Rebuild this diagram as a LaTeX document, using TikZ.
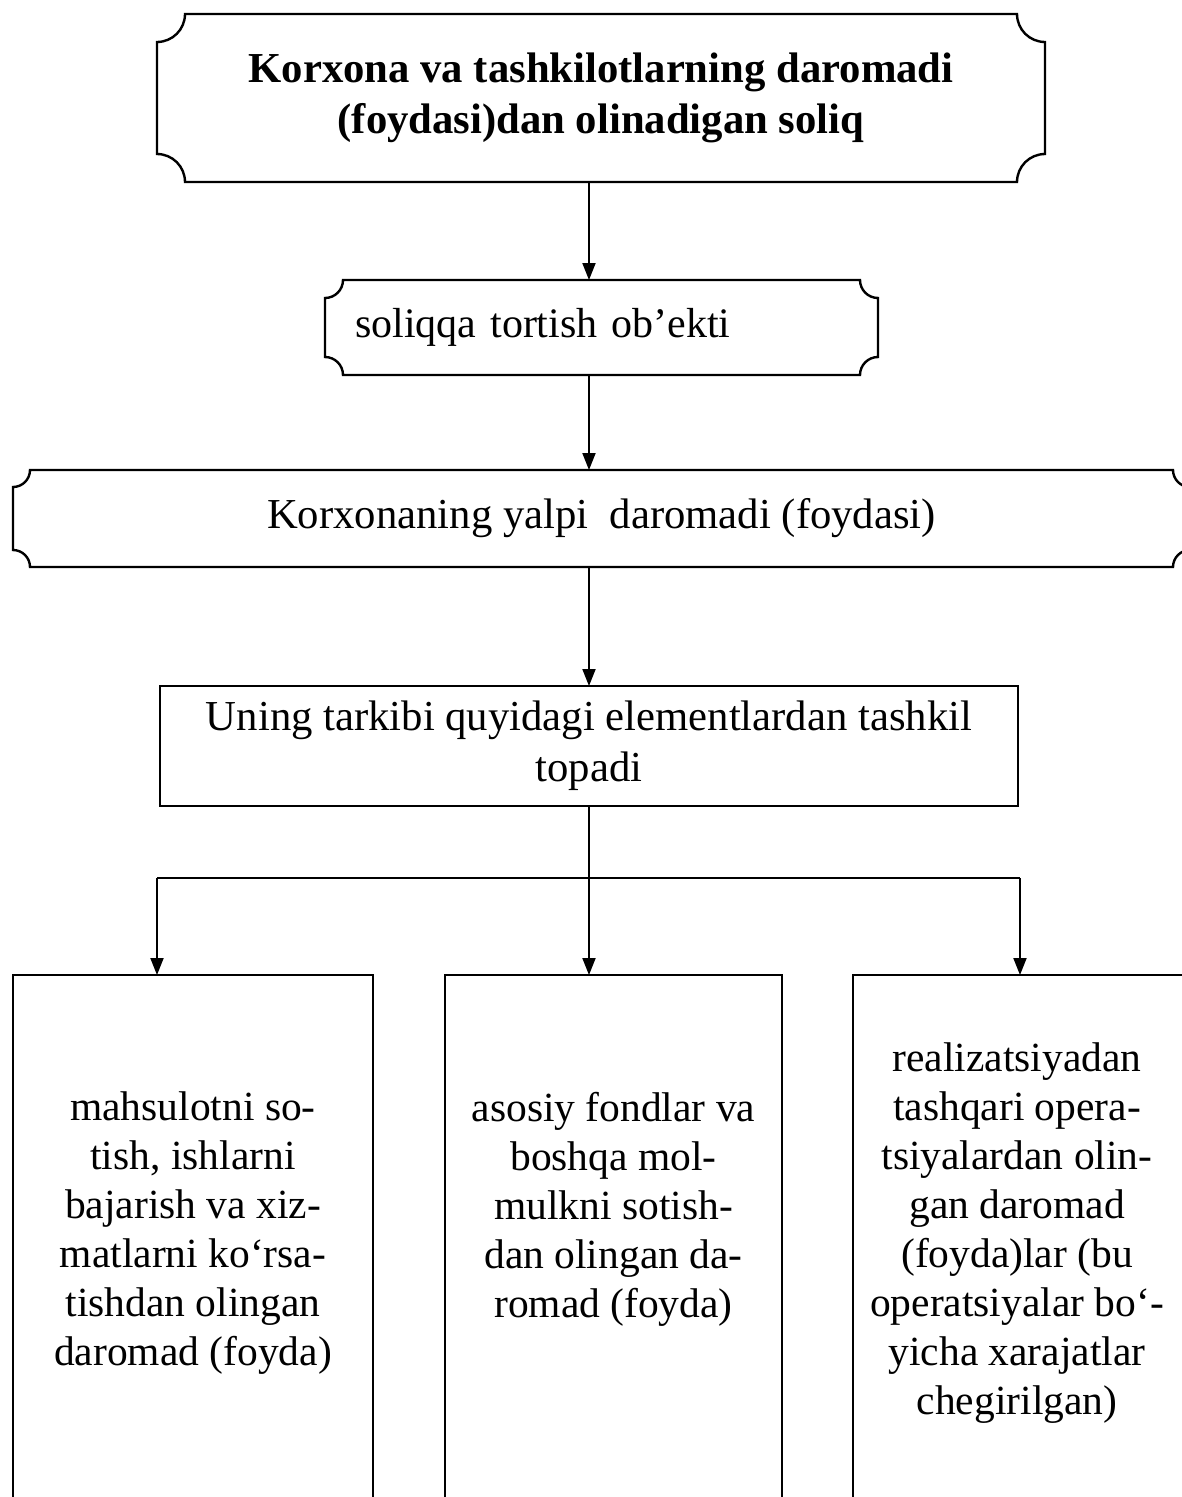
\documentclass[tikz,border=0pt]{standalone}
\usepackage{fontspec}
\setmainfont{Liberation Serif}
\usetikzlibrary{calc,arrows.meta}
\tikzset{
  every node/.style={outer sep=0pt},
  plain/.style={line width=2.4pt},
  conn/.style={line width=2pt, -{Triangle[width=13pt,length=17pt]}},
  txt/.style={font=\fontsize{42.7}{51}\selectfont, align=center, inner sep=0pt},
  lowtxt/.style={font=\fontsize{41.5}{49}\selectfont, align=center, inner sep=0pt},
}
\newcommand\plaqueof[2]{%
  \draw[plain] let \p1=(#1.north west), \p2=(#1.south east) in
    (\x1+#2,\y1) -- (\x2-#2,\y1) arc[start angle=180,end angle=270,radius=#2]
    -- (\x2,\y2+#2) arc[start angle=90,end angle=180,radius=#2]
    -- (\x1+#2,\y2) arc[start angle=0,end angle=90,radius=#2]
    -- (\x1,\y1-#2) arc[start angle=270,end angle=360,radius=#2] -- cycle;}
\begin{document}
\begin{tikzpicture}[x=1pt,y=-1pt]
\useasboundingbox (0,0) rectangle (1182,1497);
\clip (0,0) rectangle (1182,1497);
% top plaque
\node[txt, minimum width=888pt, minimum height=168pt] (top) at (601,98)
  {\bfseries Korxona va tashkilotlarning daromadi\\\bfseries (foydasi)dan olinadigan soliq};
\plaqueof{top}{28pt}
% object
\node[txt, font=\fontsize{42}{51}\selectfont, minimum width=553pt, minimum height=95pt, text width=493pt, align=left, inner xsep=30pt] (obj) at (601.5,327.5)
  {soliqqa tortish ob’ekti};
\plaqueof{obj}{18pt}
% gross income
\node[txt, minimum width=1177pt, minimum height=97pt] (yalpi) at (601.5,518.5)
  {Korxonaning yalpi\ \ daromadi (foydasi)};
\plaqueof{yalpi}{17pt}
% composition
\node[txt, draw, plain, minimum width=858pt, minimum height=120pt] (tark) at (589,746)
  {Uning tarkibi quyidagi elementlardan tashkil\\topadi};
% bottom boxes (open at bottom, cut by page)
\node[draw, plain, minimum width=360pt, minimum height=620pt, anchor=north] (A) at (193,975) {};
\node[draw, plain, minimum width=337pt, minimum height=620pt, anchor=north] (B) at (613.5,975) {};
\node[draw, plain, minimum width=337pt, minimum height=620pt, anchor=north] (C) at (1021.5,975) {};
\node[lowtxt] (tA) at (193,1233.5)
  {mahsulotni so-\\tish, ishlarni\\bajarish va xiz-\\matlarni ko‘rsa-\\tishdan olingan\\daromad (foyda)};
\node[lowtxt] (tB) at (613.5,1209)
  {asosiy fondlar va\\boshqa mol-\\mulkni sotish-\\dan olingan da-\\romad (foyda)};
\node[lowtxt] (tC) at (1017,1233.5)
  {realizatsiyadan\\tashqari opera-\\tsiyalardan olin-\\gan daromad\\(foyda)lar (bu\\operatsiyalar bo‘-\\yicha xarajatlar\\chegirilgan)};
% connectors
\draw[conn] (top.south -| tark.north) -- (obj.north -| tark.north);
\draw[conn] (obj.south -| tark.north) -- (yalpi.north -| tark.north);
\draw[conn] (yalpi.south -| tark.north) -- (tark.north);
\coordinate (jl) at (157,878);
\coordinate (jr) at (1020,878);
\draw[line width=2pt] (jl) -- (jr);
\draw[line width=2pt] (tark.south) -- (tark.south |- jl);
\draw[conn] (jl) -- (jl |- A.north);
\draw[conn] (tark.south |- jl) -- (tark.south |- B.north);
\draw[conn] (jr) -- (jr |- C.north);
\end{tikzpicture}
\end{document}
